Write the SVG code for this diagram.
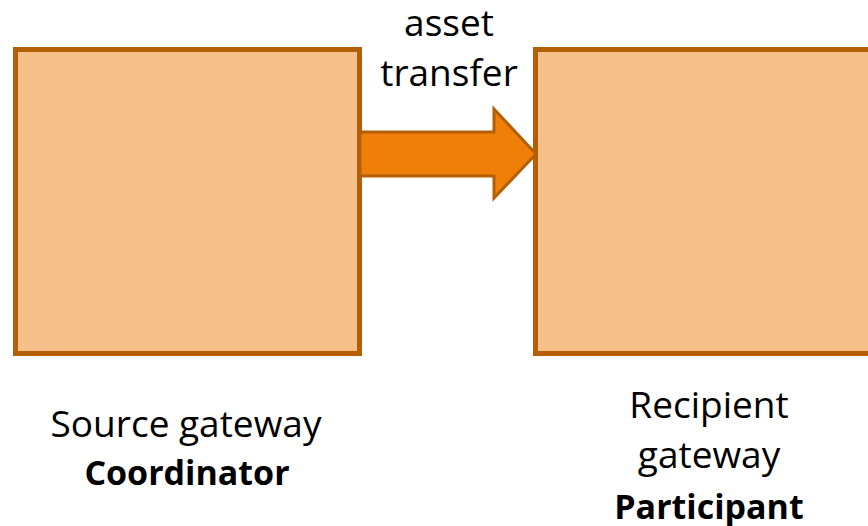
<svg xmlns="http://www.w3.org/2000/svg" width="868" height="526" viewBox="0 0 868 526">
<style>
.box{fill:#F5C08A;stroke:#B45F06;stroke-width:5}
.arrow{fill:#F07F0A;stroke:#B45F06;stroke-width:3;stroke-linejoin:miter}
text{font-family:"Open Sans","Liberation Sans",sans-serif;font-size:37px;fill:#000;text-anchor:middle}
.b{font-weight:bold;font-size:34px}
</style>
<rect width="868" height="526" fill="#fff"/>
<g id="source">
<rect class="box" x="15.5" y="49.5" width="344" height="304"/>
<text x="186" y="437">Source gateway</text>
<text class="b" x="187" y="485">Coordinator</text>
</g>
<g id="recipient">
<rect class="box" x="535.5" y="49.5" width="340" height="304"/>
<text x="709" y="418">Recipient</text>
<text x="709" y="468">gateway</text>
<text class="b" x="709" y="519">Participant</text>
</g>
<g id="connectors">
<path class="arrow" d="M360,132 L494,132 L494,109 L536,154 L494,198 L494,176 L360,176 Z"/>
<text x="449" y="36">asset</text>
<text x="449" y="86">transfer</text>
</g>
</svg>
